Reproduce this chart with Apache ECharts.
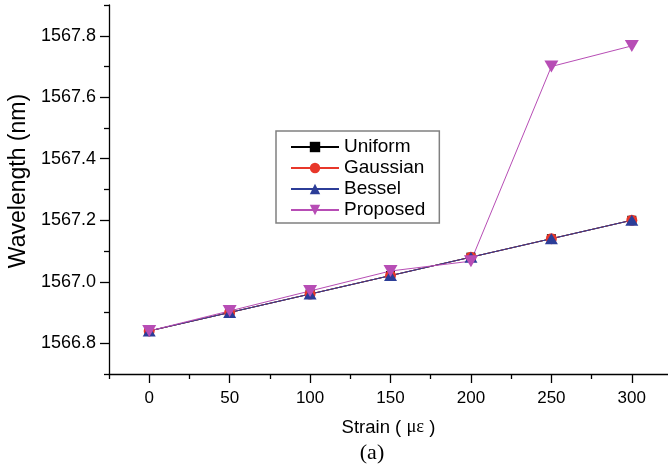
<!DOCTYPE html>
<html>
<head>
<meta charset="utf-8">
<script src="https://cdn.jsdelivr.net/npm/echarts@6/dist/echarts.min.js"></script>
<style>
html,body{margin:0;padding:0;background:#fff;}
#chart{width:668px;height:469px;}
</style>
</head>
<body>
<div id="chart"></div>
<script>
// ---- data ----
const strain = [0, 50, 100, 150, 200, 250, 300];
const uniform  = [1566.84, 1566.90, 1566.96, 1567.02, 1567.08, 1567.14, 1567.20];
const gaussian = [1566.84, 1566.90, 1566.96, 1567.02, 1567.08, 1567.14, 1567.20];
const bessel   = [1566.84, 1566.90, 1566.96, 1567.02, 1567.08, 1567.14, 1567.20];
const proposed = [1566.84, 1566.905, 1566.97, 1567.035, 1567.067, 1567.70, 1567.767];
const xMajorTicks = [0, 50, 100, 150, 200, 250, 300];
const xMinorTicks = [-25, 25, 75, 125, 175, 225, 275];
const yMajorTicks = [1566.8, 1567.0, 1567.2, 1567.4, 1567.6, 1567.8];
const yMinorTicks = [1566.7, 1566.9, 1567.1, 1567.3, 1567.5, 1567.7, 1567.9];

const xMin = -25, xMax = 322.5, yMin = 1566.7, yMax = 1567.9;

const chart = echarts.init(document.getElementById('chart'), null, {renderer: 'canvas'});
const FONT = 'Liberation Sans, Arial, sans-serif';
const axisLineStyle = {color: '#000', width: 1.3};

function pairs(ys) { return strain.map((x, i) => [x, ys[i]]); }

const invTri = 'path://M0,0 L10,0 L5,8.5 Z';

const option = {
  animation: false,
  backgroundColor: '#fff',
  grid: {left: 109, right: 0, top: 5, bottom: 95, containLabel: false},
  xAxis: [
    {
      type: 'value', min: xMin, max: xMax,
      name: '{a|Strain ( }{b|με}{a| )}',
      nameLocation: 'middle', nameGap: 44,
      nameTextStyle: {
        rich: {
          a: {fontFamily: FONT, fontSize: 18.5, color: '#000'},
          b: {fontFamily: 'Liberation Serif, Times New Roman, serif', fontSize: 18.5, color: '#000'}
        }
      },
      axisLine: {show: true, onZero: false, lineStyle: axisLineStyle},
      axisTick: {show: true, inside: false, length: 9, lineStyle: axisLineStyle, customValues: xMajorTicks},
      axisLabel: {show: true, margin: 16, fontFamily: FONT, fontSize: 17, color: '#000', customValues: xMajorTicks},
      splitLine: {show: false}
    },
    {
      type: 'value', min: xMin, max: xMax, position: 'bottom',
      axisLine: {show: false, onZero: false},
      axisTick: {show: true, inside: false, length: 5, lineStyle: axisLineStyle, customValues: xMinorTicks},
      axisLabel: {show: false},
      splitLine: {show: false}
    }
  ],
  yAxis: [
    {
      type: 'value', min: yMin, max: yMax,
      axisLine: {show: true, onZero: false, lineStyle: axisLineStyle},
      axisTick: {show: true, inside: false, length: 9, lineStyle: axisLineStyle, customValues: yMajorTicks},
      axisLabel: {show: true, margin: 13, fontFamily: FONT, fontSize: 18, color: '#000',
        customValues: yMajorTicks, formatter: v => v.toFixed(1)},
      splitLine: {show: false}
    },
    {
      type: 'value', min: yMin, max: yMax, position: 'left',
      axisLine: {show: false, onZero: false},
      axisTick: {show: true, inside: false, length: 5, lineStyle: axisLineStyle, customValues: yMinorTicks},
      axisLabel: {show: false},
      splitLine: {show: false}
    }
  ],
  graphic: [
    {
      type: 'text', x: 19, y: 181, rotation: Math.PI / 2,
      style: {text: 'Wavelength (nm)', fontFamily: FONT, fontSize: 23, fill: '#000',
        textAlign: 'center', textVerticalAlign: 'middle'}
    },
    {
      type: 'text', x: 372, y: 453,
      style: {text: '(a)', fontFamily: 'Liberation Serif, Times New Roman, serif', fontSize: 22, fill: '#000',
        textAlign: 'center', textVerticalAlign: 'middle'}
    }
  ],
  legend: {
    orient: 'vertical', left: 276, top: 131,
    backgroundColor: '#fff', borderColor: '#808080', borderWidth: 1.5, borderRadius: 0,
    padding: [6, 14, 3, 14],
    itemWidth: 48, itemHeight: 13, itemGap: 1,
    textStyle: {fontFamily: FONT, fontSize: 19, color: '#000', lineHeight: 20},
    data: ['Uniform', 'Gaussian', 'Bessel', 'Proposed']
  },
  series: [
    {name: 'Uniform', type: 'line', data: pairs(uniform), xAxisIndex: 0, yAxisIndex: 0,
      symbol: 'rect', symbolSize: 9, color: '#000', lineStyle: {width: 1, color: '#000'}},
    {name: 'Gaussian', type: 'line', data: pairs(gaussian), xAxisIndex: 0, yAxisIndex: 0,
      symbol: 'circle', symbolSize: 11, color: '#e8372a', lineStyle: {width: 1, color: '#e8372a'}},
    {name: 'Bessel', type: 'line', data: pairs(bessel), xAxisIndex: 0, yAxisIndex: 0,
      symbol: 'triangle', symbolSize: [13, 11], color: '#2c3d98', lineStyle: {width: 1, color: '#2c3d98'}},
    {name: 'Proposed', type: 'line', data: pairs(proposed), xAxisIndex: 0, yAxisIndex: 0,
      symbol: invTri, symbolSize: [14, 12], color: '#b74db5', lineStyle: {width: 1, color: '#b74db5'}}
  ]
};
chart.setOption(option);
</script>
</body>
</html>
